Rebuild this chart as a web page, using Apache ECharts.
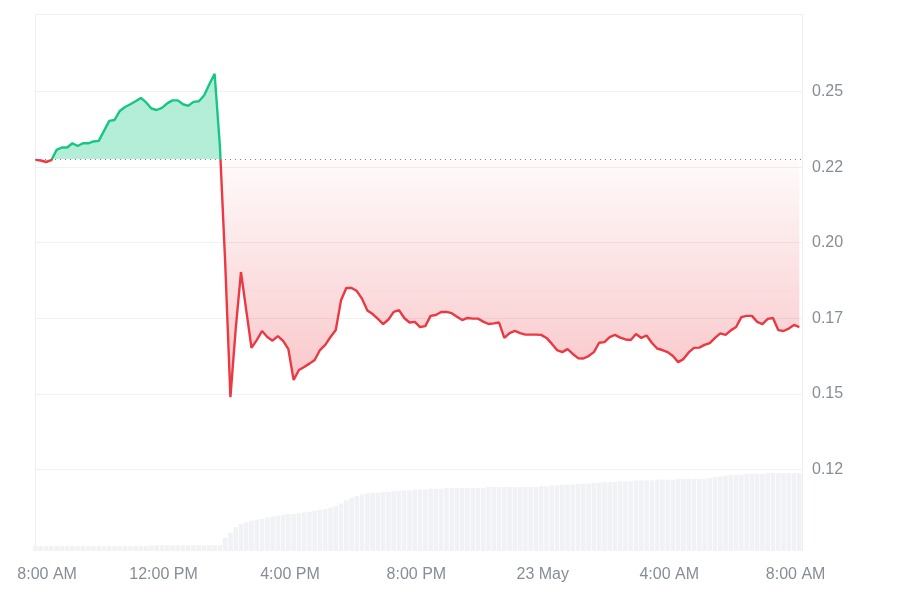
<!DOCTYPE html>
<html>
<head>
<meta charset="utf-8">
<script src="https://cdn.jsdelivr.net/npm/echarts@6/dist/echarts.min.js"></script>
<style>
  html, body { margin: 0; padding: 0; background: #ffffff; }
  #chart { width: 900px; height: 600px; }
</style>
</head>
<body>
<div id="chart"></div>
<script>
// ---- Data ----
// Sampling: minutes after 8:00 AM, one reading every 10 minutes starting at 7:57 AM
const startMinute = -3;
const stepMinutes = 10;

const prices = [
  0.2274, 0.2272, 0.2267, 0.2273, 0.2307, 0.2315, 0.2315, 0.2329, 0.2320, 0.2329,
  0.2329, 0.2335, 0.2337, 0.2370, 0.2403, 0.2406, 0.2436, 0.2449, 0.2458, 0.2468,
  0.2479, 0.2464, 0.2444, 0.2439, 0.2446, 0.2461, 0.2471, 0.2471, 0.2458, 0.2453,
  0.2466, 0.2468, 0.2487, 0.2524, 0.2559, 0.2320, 0.1936, 0.1489, 0.1714, 0.1903,
  0.1777, 0.1652, 0.1678, 0.1708, 0.1688, 0.1676, 0.1691, 0.1675, 0.1648, 0.1546,
  0.1579, 0.1589, 0.1600, 0.1612, 0.1645, 0.1662, 0.1688, 0.1711, 0.1810, 0.1850,
  0.1850, 0.1840, 0.1814, 0.1776, 0.1764, 0.1748, 0.1731, 0.1746, 0.1771, 0.1777,
  0.1751, 0.1736, 0.1738, 0.1721, 0.1724, 0.1758, 0.1761, 0.1771, 0.1771, 0.1767,
  0.1755, 0.1744, 0.1751, 0.1749, 0.1749, 0.1739, 0.1731, 0.1733, 0.1736, 0.1685,
  0.1701, 0.1708, 0.1701, 0.1696, 0.1696, 0.1696, 0.1695, 0.1685, 0.1666, 0.1645,
  0.1638, 0.1648, 0.1632, 0.1618, 0.1617, 0.1625, 0.1638, 0.1669, 0.1671, 0.1688,
  0.1695, 0.1686, 0.1680, 0.1678, 0.1698, 0.1685, 0.1693, 0.1669, 0.1650, 0.1645,
  0.1638, 0.1625, 0.1605, 0.1615, 0.1637, 0.1652, 0.1653, 0.1662, 0.1668, 0.1685,
  0.1700, 0.1695, 0.1710, 0.1721, 0.1754, 0.1758, 0.1758, 0.1738, 0.1731, 0.1748,
  0.1751, 0.1711, 0.1708, 0.1716, 0.1728, 0.1721
];

const volumes = [
  6, 6, 6, 6, 6, 6, 6, 6, 6, 6,
  6, 6, 6, 6, 6, 6, 6, 6, 6, 6,
  6, 6, 7, 7, 7, 7, 7, 7, 7, 7,
  7, 7, 7, 7, 7, 7, 16, 22, 29, 33,
  35, 37, 38, 39, 41, 42, 43, 44, 45, 45,
  46, 47, 48, 49, 50, 51, 53, 55, 58, 62,
  65, 67, 69, 70, 71, 71, 72, 72, 73, 73,
  74, 74, 75, 75, 75, 76, 76, 76, 77, 77,
  77, 77, 77, 77, 77, 77, 78, 78, 78, 78,
  78, 78, 78, 78, 78, 78, 79, 79, 80, 80,
  81, 81, 81, 82, 82, 82, 83, 83, 84, 84,
  84, 85, 85, 85, 86, 86, 86, 86, 87, 87,
  87, 87, 88, 88, 88, 88, 88, 88, 89, 90,
  91, 92, 93, 93, 93, 94, 94, 94, 94, 95,
  95, 95, 95, 95, 95, 95
];

const baselinePrice = 0.2277;

const xTickMinutes = [0, 240, 480, 720, 960, 1200, 1440];
const xTickLabels = ['8:00 AM', '12:00 PM', '4:00 PM', '8:00 PM', '23 May', '4:00 AM', '8:00 AM'];

const yTickValues = [0.125, 0.15, 0.175, 0.2, 0.225, 0.25];
const yTickLabels = ['0.12', '0.15', '0.17', '0.20', '0.22', '0.25'];

const xMin = -4, xMax = 1454;

// ---- Build series data ----
const minutes = prices.map((_, i) => startMinute + stepMinutes * i);
const priceData = prices.map((p, i) => [minutes[i], p]);
const volumeData = volumes.map((v, i) => [minutes[i], v]);

const GREEN = '#16c784';
const RED = '#ea3943';
const TEXT = '#878d97';
const GRID_LINE = '#eff1f4';
const FONT = '"Liberation Sans", Arial, sans-serif';

const chart = echarts.init(document.getElementById('chart'), null, { renderer: 'canvas' });

const areaGradient = new echarts.graphic.LinearGradient(0, 0, 0, 600, [
  { offset: 0, color: 'rgba(22,199,132,0.32)' },
  { offset: 0.2645, color: 'rgba(22,199,132,0.32)' },
  { offset: 0.2646, color: 'rgba(234,57,67,0.02)' },
  { offset: 0.667, color: 'rgba(234,57,67,0.30)' },
  { offset: 1, color: 'rgba(234,57,67,0.30)' }
], true);

const option = {
  animation: false,
  backgroundColor: '#ffffff',
  graphic: [{
    type: 'polyline',
    silent: true,
    z: 0,
    shape: { points: [[35.5, 551], [35.5, 14.5], [802.5, 14.5], [802.5, 551]] },
    style: { fill: 'none', stroke: '#eceef1', lineWidth: 1 }
  }],
  grid: [
    { left: 35, right: 97, top: 16, bottom: 55 },
    { left: 35, right: 97, top: 469, bottom: 49 }
  ],
  xAxis: [
    {
      type: 'value', gridIndex: 0, min: xMin, max: xMax,
      show: false
    },
    {
      type: 'value', gridIndex: 1, min: xMin, max: xMax,
      axisLine: { show: false },
      axisTick: { show: false },
      splitLine: { show: false },
      axisLabel: {
        customValues: xTickMinutes,
        margin: 16,
        color: TEXT,
        fontSize: 16,
        fontFamily: FONT,
        formatter: function (val) {
          const idx = xTickMinutes.indexOf(Math.round(val));
          if (idx < 0) return '';
          if (idx === 0) return '{first|' + xTickLabels[idx] + '}';
          return xTickLabels[idx];
        },
        rich: {
          first: { padding: [0, 0, 0, 20], color: TEXT, fontSize: 16, fontFamily: FONT }
        }
      }
    }
  ],
  yAxis: [
    {
      type: 'value', gridIndex: 0, position: 'right',
      min: 0.1, max: 0.275, interval: 0.025,
      axisLine: { show: false },
      axisTick: { show: false },
      splitLine: {
        show: true, showMinLine: false, showMaxLine: false,
        lineStyle: { color: GRID_LINE, width: 1 }
      },
      axisLabel: {
        margin: 9,
        color: TEXT,
        fontSize: 16,
        fontFamily: FONT,
        showMinLabel: false,
        showMaxLabel: false,
        formatter: function (val) {
          for (let k = 0; k < yTickValues.length; k++) {
            if (Math.abs(yTickValues[k] - val) < 1e-6) return yTickLabels[k];
          }
          return '';
        }
      }
    },
    {
      type: 'value', gridIndex: 1, min: 0, max: 100,
      show: false,
      splitLine: { show: false }
    }
  ],
  visualMap: {
    type: 'piecewise',
    show: false,
    seriesIndex: 1,
    dimension: 1,
    pieces: [
      { gt: baselinePrice, lte: 1, color: GREEN },
      { gte: 0, lte: baselinePrice, color: RED }
    ],
    outOfRange: { color: RED }
  },
  series: [
    {
      name: 'Volume',
      type: 'bar',
      xAxisIndex: 1,
      yAxisIndex: 1,
      data: volumeData,
      barWidth: 4.6,
      itemStyle: { color: '#f0f2f5' },
      silent: true,
      z: 1
    },
    {
      name: 'Price',
      type: 'line',
      xAxisIndex: 0,
      yAxisIndex: 0,
      data: priceData,
      showSymbol: false,
      symbol: 'none',
      lineStyle: { width: 2.4 },
      areaStyle: { origin: baselinePrice, color: areaGradient, opacity: 1 },
      z: 3,
      markLine: {
        silent: true,
        symbol: 'none',
        precision: 6,
        label: { show: false },
        lineStyle: { color: '#7d8391', type: [1, 4], width: 1 },
        data: [{ yAxis: baselinePrice }]
      }
    }
  ]
};

chart.setOption(option);
</script>
</body>
</html>
